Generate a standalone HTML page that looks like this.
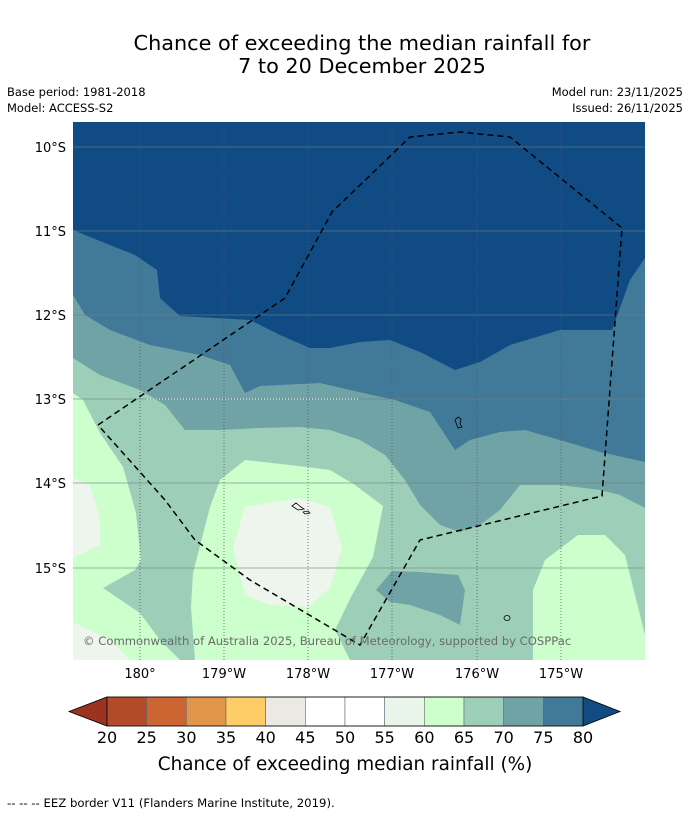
<!DOCTYPE html>
<html><head><meta charset="utf-8"><style>
body{margin:0;background:#fff;font-family:"Liberation Sans","DejaVu Sans",sans-serif;}
svg{display:block}
</style></head><body>
<svg width="690" height="816" viewBox="0 0 690 816" xmlns="http://www.w3.org/2000/svg" font-family="DejaVu Sans, Liberation Sans, sans-serif">
<rect width="690" height="816" fill="#fff"/>
<text x="362" y="50" font-size="20.8" text-anchor="middle">Chance of exceeding the median rainfall for</text>
<text x="362" y="73" font-size="20.8" text-anchor="middle">7 to 20 December 2025</text>
<text x="7" y="96" font-size="11.5">Base period: 1981-2018</text>
<text x="7" y="112" font-size="11.5">Model: ACCESS-S2</text>
<text x="683" y="96" font-size="11.5" text-anchor="end">Model run: 23/11/2025</text>
<text x="683" y="112" font-size="11.5" text-anchor="end">Issued: 26/11/2025</text>
<defs><clipPath id="mc"><rect x="73" y="122" width="572" height="538"/></clipPath></defs>
<g clip-path="url(#mc)">
<rect x="73" y="122" width="572" height="538" fill="#9dcfb8"/>
<polygon fill="#6fa3a6" points="73,122 645,122 645,508 620,495 600,490 560,485 520,485 500,510 480,525 460,532 440,525 420,505 405,480 385,455 360,440 330,430 300,427 260,428 220,430 185,430 165,405 140,390 100,375 73,358"/>
<polygon fill="#6fa3a6" points="376,590 392,571 420,572 458,575 465,590 460,625 440,615 410,605 390,602"/>
<polygon fill="#417a99" points="73,122 645,122 645,462 600,452 560,440 525,430 500,432 470,440 455,450 430,412 395,400 350,390 320,383 260,386 245,393 230,365 200,355 150,345 110,330 85,315 73,295"/>
<polygon fill="#114b84" points="73,122 645,122 645,258 630,280 612,330 560,330 540,336 510,345 480,362 455,370 420,352 390,340 360,342 330,348 310,348 280,335 250,320 180,316 160,298 157,270 135,255 110,245 90,237 73,230"/>
<polygon fill="#ccffcc" points="73,393 83,400 100,433 123,467 136,513 141,560 135,570 103,588 140,613 160,640 180,660 73,660"/>
<polygon fill="#ccffcc" points="195,660 191,607 193,573 210,507 220,480 245,460 290,465 330,470 355,485 383,506 373,557 351,597 335,630 350,660"/>
<polygon fill="#ccffcc" points="533,660 533,590 545,560 578,535 605,535 625,555 635,595 645,635 645,660"/>
<polygon fill="#edf5ec" points="233,548 245,507 300,498 330,507 342,548 330,588 308,607 270,605 245,595"/>
<polygon fill="#edf5ec" points="73,478 90,485 100,520 100,545 73,558"/>
<polygon fill="#edf5ec" points="73,622 110,640 130,660 73,660"/>
<g stroke="#556" stroke-width="0.8" stroke-dasharray="1,2">
<line x1="140" y1="122" x2="140" y2="660"/><line x1="224" y1="122" x2="224" y2="660"/><line x1="308" y1="122" x2="308" y2="660"/><line x1="392" y1="122" x2="392" y2="660"/><line x1="477" y1="122" x2="477" y2="660"/><line x1="561" y1="122" x2="561" y2="660"/>
</g>
<g stroke="#708080" stroke-opacity="0.6" stroke-width="1">
<line x1="73" y1="147" x2="645" y2="147"/><line x1="73" y1="231" x2="645" y2="231"/><line x1="73" y1="315" x2="645" y2="315"/><line x1="73" y1="399" x2="645" y2="399"/><line x1="73" y1="483" x2="645" y2="483"/><line x1="73" y1="568" x2="645" y2="568"/>
</g>
<line x1="147" y1="399" x2="360" y2="399" stroke="#fff" stroke-width="1" stroke-dasharray="1,2"/>
<polyline fill="none" stroke="#000" stroke-width="1.5" stroke-dasharray="6,4" points="98,425 285,298 332,212 410,137 460,132 510,137 622,228 602,496 420,540 360,645 250,580 195,540 165,500 98,425"/>
<path d="M455,420 l3,-3 l3,2 l-1,5 l2,3 l-4,1 z" fill="none" stroke="#000" stroke-width="0.8"/>
<path d="M292,506 l4,-3 l5,4 l3,2 l-6,1 z M303,512 l5,-1 l2,2 l-5,1z" fill="none" stroke="#000" stroke-width="0.8"/>
<ellipse cx="507" cy="618" rx="3" ry="2.5" fill="none" stroke="#000" stroke-width="0.8"/>
<text x="83" y="645" font-size="11.6" fill="#6a6a6a">© Commonwealth of Australia 2025, Bureau of Meteorology, supported by COSPPac</text>
</g>
<g font-size="13" fill="#000">
<text x="66" y="152" text-anchor="end">10°S</text><text x="66" y="236" text-anchor="end">11°S</text><text x="66" y="320" text-anchor="end">12°S</text><text x="66" y="404" text-anchor="end">13°S</text><text x="66" y="488" text-anchor="end">14°S</text><text x="66" y="573" text-anchor="end">15°S</text>
</g>
<g font-size="13" fill="#000" text-anchor="middle">
<text x="140" y="678">180°</text><text x="224" y="678">179°W</text><text x="308" y="678">178°W</text><text x="392" y="678">177°W</text><text x="477" y="678">176°W</text><text x="561" y="678">175°W</text>
</g>
<g id="cbar"></g>
<text x="345" y="770" font-size="18.4" text-anchor="middle">Chance of exceeding median rainfall (%)</text>
<text x="7" y="807" font-size="11.7">-- -- -- EEZ border V11 (Flanders Marine Institute, 2019).</text>
</svg>
<script>
const levels=[20,25,30,35,40,45,50,55,60,65,70,75,80];
const colors=["#b34a28","#cd6533","#e09548","#fecc66","#ece9e5","#ffffff","#ffffff","#eaf5e9","#ccffcc","#9dcfb8","#6fa3a6","#417a99"];
const underColor="#9b3320", overColor="#114b84";
const NS="http://www.w3.org/2000/svg";
const g=document.getElementById('cbar');
const x0=107,x1=583,y0=697,y1=726;
const sx=v=>x0+(v-levels[0])/(levels[levels.length-1]-levels[0])*(x1-x0);
function mk(t,a){const e=document.createElementNS(NS,t);for(const k in a)e.setAttribute(k,a[k]);g.appendChild(e);return e;}
const lt=mk('polygon',{points:`${x0},${y0} ${x0},${y1} 69,${(y0+y1)/2}`,fill:underColor,stroke:'#000','stroke-width':0.8});


const rt=mk('polygon',{points:`${x1},${y0} ${x1},${y1} 620,${(y0+y1)/2}`,fill:overColor,stroke:'#000','stroke-width':0.8});


for(let i=0;i<colors.length;i++){
  const r=mk('rect',{x:sx(levels[i]),y:y0,width:sx(levels[i+1])-sx(levels[i]),height:y1-y0,fill:colors[i],stroke:'#667',"stroke-width":0.6});
  
  
}
const fr=mk('rect',{x:x0,y:y0,width:x1-x0,height:y1-y0,fill:'none',stroke:'#000','stroke-width':0.8});


levels.forEach(v=>{
  const t=mk('text',{x:sx(v),y:743,'font-size':16,'text-anchor':'middle'});
  t.textContent=v;
  
  
});
</script>
</body></html>
